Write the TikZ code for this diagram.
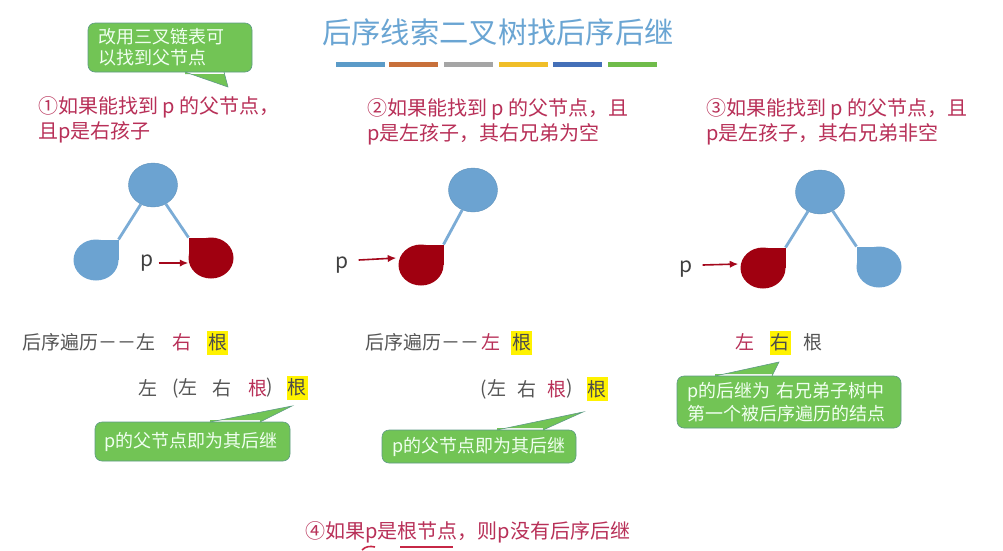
\documentclass[tikz,border=0pt]{standalone}
\usepackage{fontspec}
\setmainfont{Noto Sans CJK SC}
\usetikzlibrary{arrows.meta, positioning, shapes.geometric}
\definecolor{ttl}{HTML}{6AA5D3}
\definecolor{nodeblue}{HTML}{6CA3D1}
\definecolor{nodered}{HTML}{A00010}
\definecolor{txtred}{HTML}{B83058}
\definecolor{txtgray}{HTML}{555555}
\definecolor{bubgreen}{HTML}{72C455}
\definecolor{bubedge}{HTML}{5E9A86}
\tikzset{
  dgm/.style={x=1pt, y=-1pt, >={Latex[length=3mm, width=2.6mm]}},
  ttlnode/.style={font=\fontsize{29.3}{32}\selectfont, text=ttl, inner sep=0pt},
  bar/.style={minimum width=49pt, minimum height=5pt, inner sep=0pt},
  cse/.style={font=\fontsize{20}{25}\selectfont, text=txtred, anchor=west, align=left, inner sep=0pt},
  trv/.style={font=\fontsize{19}{22}\selectfont, text=txtgray, inner sep=0pt},
  hot/.style={trv, fill=yellow, text=black!70, minimum width=21pt, minimum height=24pt},
  redt/.style={trv, text=txtred},
  bub/.style={draw=bubedge, fill=bubgreen, rounded corners=7pt, semithick, text=white!94!green,
              font=\fontsize{18}{23}\selectfont, align=left, inner sep=0pt},
  tree/.style={ellipse, draw=nodeblue!90!black, fill=nodeblue, minimum width=49pt, minimum height=44pt, inner sep=0pt},
  leaf/.style={ellipse, minimum width=45pt, minimum height=41pt, inner sep=0pt},
  lnk/.style={draw=nodeblue!90!white, line width=2.8pt},
  parr/.style={->, draw=nodered!85!txtred, line width=1.6pt},
  pnode/.style={font=\fontsize{21}{24}\selectfont, text=black!75, inner sep=0pt}
}
% tail of a speech bubble: node, start and end of its base (offsets from the west end), tip
\newcommand{\bubtail}[4]{
  \fill[bubgreen] (#2) -- (#4) -- (#3) -- ([yshift=#1]#3) -- ([yshift=#1]#2) -- cycle;
  \draw[bubedge, semithick] (#2) -- (#4) -- (#3);
}
\begin{document}
\begin{tikzpicture}[dgm]
  \useasboundingbox[fill=white] (0,0) rectangle (1003,550);

  \node[ttlnode] (title) at (498,32) {后序线索二叉树找后序后继};
  \foreach \n/\x/\c in {a/360/5B9BC8, b/413/C8703A, c/468/A5A5A5, d/523/F0BE28, e/577/4470B8, f/632/70BC4A} {
    \definecolor{barcol}{HTML}{\c}
    \node[bar, fill=barcol] (bar\n) at (\x,64.5) {};
  }

  % bubble on top
  \node[bub, minimum width=164pt, minimum height=49pt, text width=144pt,
        font=\fontsize{18}{21}\selectfont] (bubt) at (170,47.5) {改用三叉链表可\\以找到父节点};
  \coordinate (bta) at (185,72);
  \coordinate (btb) at (224,72);
  \coordinate (btt) at (228,87);
  \bubtail{-2pt}{bta}{btb}{btt}

  % the cases
  \node[cse] (case1) at (38,120) {①如果能找到 p 的父节点，\\且p是右孩子};
  \node[cse] (case2) at (367,122) {②如果能找到 p 的父节点，且\\p是左孩子，其右兄弟为空};
  \node[cse] (case3) at (706,122) {③如果能找到 p 的父节点，且\\p是左孩子，其右兄弟非空};
  \node[cse] (case4) at (305,532) {④如果p是根节点，则p没有后序后继};

  % teardrop leaves
  \foreach \n/\x/\y/\s/\c in {la/96/260/1/nodeblue, lb/211/258/-1/nodered, lc/421/265/1/nodered,
                              ld/763/268/1/nodered, le/879/267/-1/nodeblue} {
    \coordinate (\n top) at ({\x+\s*22.5},{\y-20.5});
    \fill[\c] (\x,\y) rectangle (\n top);
    \node[leaf, fill=\c] (\n) at (\x,\y) {};
  }
  \node[tree] (ra) at (153,185) {};
  \node[tree] (rb) at (473,190) {};
  \node[tree] (rc) at (820,192) {};
  \draw[lnk] (ra) -- (latop);
  \draw[lnk] (ra) -- (lbtop);
  \draw[lnk] (rb) -- (lctop);
  \draw[lnk] (rc) -- (ldtop);
  \draw[lnk] (rc) -- (letop);

  \node[pnode] (pa) at (147,263) {p};
  \node[pnode] (pb) at (342,265) {p};
  \node[pnode] (pc) at (686,269) {p};
  \draw[parr] (pa.east) ++(5,0) coordinate (pas) -- (lb.west |- pas);
  \draw[parr] (pb.east) ++(10,-5) -- ([xshift=-2pt,yshift=7pt]lc.west);
  \draw[parr] (pc.east) ++(10,-4) -- ([xshift=-2pt,yshift=4pt]ld.west);

  % traversal, first column
  \node[trv, anchor=west] (ta1) at (22,342) {后序遍历－－左};
  \node[redt] (ta2) at (182,342) {右};
  \node[hot] (ta3) at (217.5,342.5) {根};
  \node[trv] (tb1) at (148,388) {左};
  \node[trv] (tb2) at (185,388) {(左};
  \node[trv] (tb3) at (222,388) {右};
  \node[redt] (tb4) at (258,388) {根};
  \node[trv] (tb5) at (270,388) {)};
  \node[hot] (tb6) at (297,387.5) {根};

  % traversal, second column
  \node[trv, anchor=west] (tc1) at (365,342) {后序遍历－－};
  \node[redt] (tc2) at (491,342) {左};
  \node[hot] (tc3) at (521.5,342.5) {根};
  \node[trv] (td1) at (493.5,389) {(左};
  \node[trv] (td2) at (527,389) {右};
  \node[redt] (td3) at (557,389) {根};
  \node[trv] (td4) at (570,389) {)};
  \node[hot] (td5) at (597,389) {根};

  % traversal, third column
  \node[redt] (te1) at (745,342) {左};
  \node[hot] (te2) at (780,342.5) {右};
  \node[trv] (te3) at (813,342) {根};

  % bubbles below
  \node[bub, minimum width=195pt, minimum height=39pt, text width=177pt] (buba) at (192.5,441.5) {p的父节点即为其后继};
  \coordinate (baa) at (210,422);
  \coordinate (bab) at (260,422);
  \coordinate (bat) at (292,406);
  \bubtail{2pt}{baa}{bab}{bat}

  \node[bub, minimum width=194pt, minimum height=33pt, text width=174pt] (bubb) at (479,446.5) {p的父节点即为其后继};
  \coordinate (bba) at (497,430);
  \coordinate (bbb) at (543,430);
  \coordinate (bbt) at (583,412);
  \bubtail{2pt}{bba}{bbb}{bbt}

  \node[bub, minimum width=224pt, minimum height=52pt, text width=204pt] (bubc) at (789,402) {p的后继为 右兄弟子树中\\第一个被后序遍历的结点};
  \coordinate (bca) at (715,376);
  \coordinate (bcb) at (772,376);
  \coordinate (bct) at (779,362);
  \bubtail{2pt}{bca}{bcb}{bct}

  % pen strokes at the lower edge
  \draw[txtred!80!red, line width=1.6pt] (362,550) .. controls (366,546) and (370,546) .. (375,547);
  \draw[txtred!80!red, line width=1.6pt] (400,547) -- (453,547);
\end{tikzpicture}
\end{document}
